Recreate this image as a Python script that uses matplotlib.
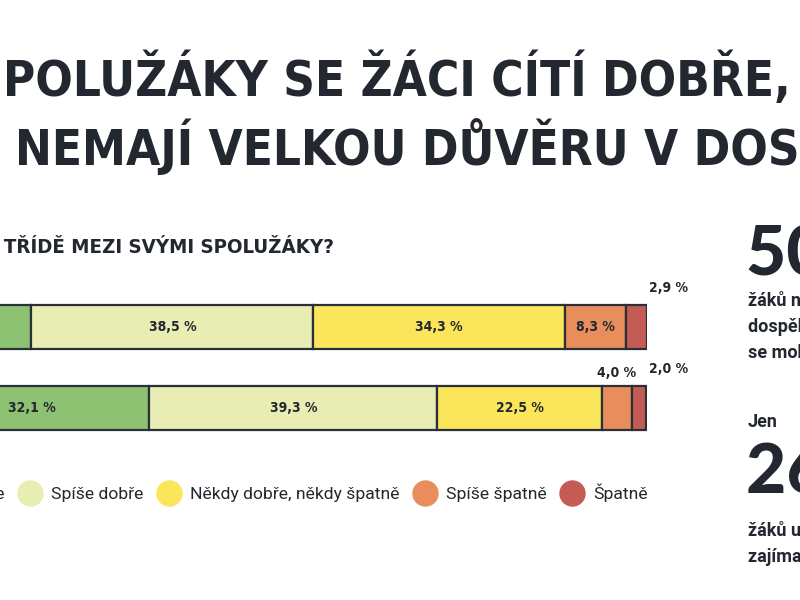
import matplotlib
matplotlib.use("Agg")
import matplotlib.pyplot as plt
from matplotlib import font_manager
from matplotlib.font_manager import FontProperties
from matplotlib.lines import Line2D

# answer categories (legend order) and the two rows of the stacked bar
categories = ["Dobře", "Spíše dobře", "Někdy dobře, někdy špatně", "Spíše špatně", "Špatně"]
row_top = [16.0, 38.5, 34.3, 8.3, 2.9]
row_bottom = [32.1, 39.3, 22.5, 4.0, 2.0]
rows = [row_top, row_bottom]
colors = ["#8dc273", "#e8edb3", "#fae55b", "#e88e5d", "#c55b55"]

title_lines = ["POLUŽÁKY SE ŽÁCI CÍTÍ DOBŘE, VE ŠKOLE",
               "NEMAJÍ VELKOU DŮVĚRU V DOSPĚLÉ"]
question = "JAK SE CÍTÍŠ VE TŘÍDĚ MEZI SVÝMI SPOLUŽÁKY?"
stat_1 = "50 %"
stat_1_text = ["žáků nemá ve škole", "dospělého, kterému", "se mohou svěřit"]
stat_2 = "26 %"
stat_2_text = ["žáků uvádí, že", "zajímají dospělé"]

DARK = "#23272f"

names = {f.name for f in font_manager.fontManager.ttflist}
body = "Roboto" if "Roboto" in names else "DejaVu Sans"
big = "Lato" if "Lato" in names else body


def is_bold(w):
    if isinstance(w, str):
        return w in ("bold", "heavy", "black", "extra bold", "demibold", "semibold")
    return w >= 600


# a condensed bold face if one is installed, else plain bold body font
cond = [f for f in font_manager.fontManager.ttflist
        if ("Condensed" in f.name or "Narrow" in f.name
            or f.stretch in ("condensed", "semi-condensed", "extra-condensed", 75, 87))
        and is_bold(f.weight) and f.style == "normal"]
if cond:
    head_fp = FontProperties(fname=cond[0].fname)
else:
    head_fp = FontProperties(family=body, weight="bold")

fig = plt.figure(figsize=(8, 6), dpi=100)
fig.patch.set_facecolor("white")


def fx(px):
    return px / 800


def fy(py):
    return 1 - py / 600


renderer = fig.canvas.get_renderer()


def fit_size(text, base, target_px):
    probe = fig.text(0, 0, text, fontproperties=head_fp, fontsize=base)
    w = probe.get_window_extent(renderer).width
    probe.remove()
    return base * target_px / w


# title: mostly match the visible width of the reference, a bit of its height
title_size = min(44, 0.75 * fit_size("POLUŽÁKY SE ŽÁCI CÍTÍ DOBŘE, V", 44, 768) + 0.25 * 44)

for line, base, x0 in zip(title_lines, [96, 165], [3, 15]):
    fig.text(fx(x0), fy(base), line, fontproperties=head_fp, fontsize=title_size,
             color=DARK, va="baseline", ha="left")

q_size = fit_size("TŘÍDĚ MEZI SVÝMI SPOLUŽÁKY?", 16, 332)
fig.text(fx(334), fy(253), question, fontproperties=head_fp, fontsize=q_size,
         color=DARK, va="baseline", ha="right")

# stacked bars
ax = fig.add_axes([fx(-86), fy(440), fx(733), 150 / 600])
for r, vals in enumerate(rows):
    left = 0
    for i, v in enumerate(vals):
        ax.barh(r, v, left=left, height=0.54, color=colors[i],
                edgecolor="#2b2f38", linewidth=1.6)
        label = f"{v:.1f}".replace(".", ",") + " %"
        if v >= 8:
            ax.text(left + v / 2, r, label, ha="center", va="center",
                    fontproperties=head_fp, fontsize=10, color=DARK)
        elif i == len(vals) - 1:
            ax.text(100.3, r - 0.27 - 0.12, label, ha="left", va="bottom",
                    fontproperties=head_fp, fontsize=10, color=DARK)
        else:
            ax.text(left + v / 2, r - 0.27 - 0.08, label, ha="center", va="bottom",
                    fontproperties=head_fp, fontsize=10, color=DARK)
        left += v
ax.set_xlim(0, 100)
ax.set_ylim(1.395, -0.457)
ax.axis("off")

# legend
handles = [Line2D([], [], linestyle="none", marker="o", markersize=18,
                  markerfacecolor=c, markeredgecolor=c) for c in colors]
fig.legend(handles, categories, loc="center left", ncol=5, frameon=False,
           bbox_to_anchor=(fx(-74), fy(493)), bbox_transform=fig.transFigure,
           handlelength=1.3, handletextpad=0.55, columnspacing=0.8,
           borderpad=0, borderaxespad=0,
           prop={"family": body, "size": 12.6}, labelcolor=DARK)

# right side numbers
fig.text(fx(746), fy(276), stat_1, family=big, weight="black", fontsize=50,
         color=DARK, va="baseline")
for k, t in enumerate(stat_1_text):
    fig.text(fx(748), fy(306 + 26 * k), t, family=body, weight="bold",
             fontsize=13, color=DARK, va="baseline")
fig.text(fx(748), fy(427), "Jen", family=body, weight="bold", fontsize=13,
         color=DARK, va="baseline")
fig.text(fx(746), fy(493), stat_2, family=big, weight="black", fontsize=50,
         color=DARK, va="baseline")
for k, t in enumerate(stat_2_text):
    fig.text(fx(748), fy(535 + 27 * k), t, family=body, weight="bold",
             fontsize=13, color=DARK, va="baseline")

fig.savefig("out.png", dpi=100, facecolor="white")
plt.close(fig)
